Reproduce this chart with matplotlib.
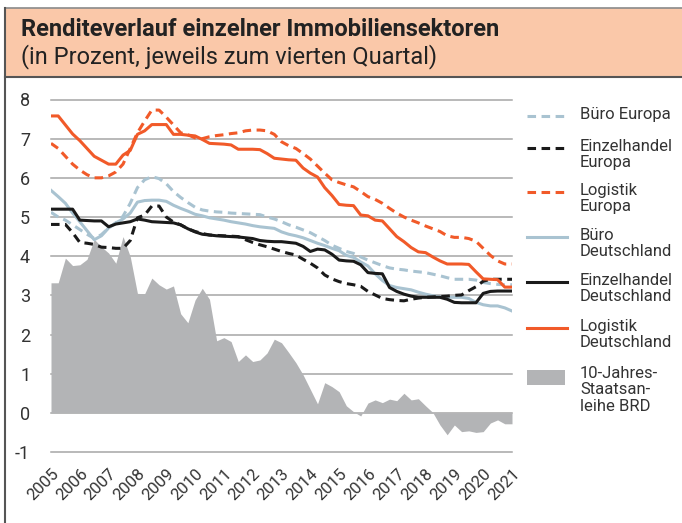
import numpy as np
import matplotlib
matplotlib.use("Agg")
import matplotlib.pyplot as plt
from matplotlib.lines import Line2D
from matplotlib.patches import Rectangle

plt.rcParams['font.family'] = ['Roboto', 'DejaVu Sans']
plt.rcParams['axes.unicode_minus'] = False

# quarterly values, Q4 2004 .. Q4 2020 (65 points on the 2005..2021 axis)
quarters = 2005 + np.arange(65) / 4

buero_europa = [
    5.12, 5.00, 4.92, 4.80, 4.68, 4.56, 4.45, 4.55, 4.72, 4.85,
    5.02, 5.35, 5.75, 5.95, 6.03, 5.98, 5.85, 5.65, 5.50, 5.37,
    5.25, 5.18, 5.15, 5.13, 5.12, 5.10, 5.09, 5.08, 5.07, 5.06,
    5.00, 4.95, 4.88, 4.80, 4.74, 4.67, 4.60, 4.50, 4.40, 4.28,
    4.20, 4.12, 4.07, 3.98, 3.90, 3.83, 3.76, 3.70, 3.67, 3.65,
    3.62, 3.60, 3.58, 3.54, 3.50, 3.45, 3.41, 3.41, 3.41, 3.39,
    3.33, 3.30, 3.28, 3.27, 3.27,
]
einzel_europa = [
    4.81, 4.81, 4.81, 4.60, 4.35, 4.33, 4.30, 4.23, 4.22, 4.20,
    4.20, 4.40, 4.98, 5.05, 5.28, 5.28, 5.00, 4.87, 4.80, 4.70,
    4.63, 4.58, 4.54, 4.53, 4.52, 4.51, 4.50, 4.42, 4.35, 4.29,
    4.24, 4.18, 4.12, 4.07, 4.03, 3.92, 3.82, 3.70, 3.52, 3.42,
    3.35, 3.30, 3.27, 3.23, 3.10, 3.01, 2.92, 2.89, 2.87, 2.86,
    2.90, 2.93, 2.95, 2.96, 2.97, 2.98, 3.00, 3.01, 3.12, 3.22,
    3.36, 3.41, 3.41, 3.41, 3.41,
]
logistik_europa = [
    6.88, 6.75, 6.55, 6.35, 6.20, 6.08, 6.00, 6.00, 6.05, 6.15,
    6.35, 6.75, 7.15, 7.45, 7.73, 7.73, 7.55, 7.35, 7.15, 7.10,
    7.02, 7.00, 7.05, 7.08, 7.10, 7.13, 7.15, 7.20, 7.22, 7.22,
    7.20, 7.11, 6.92, 6.82, 6.75, 6.62, 6.48, 6.30, 6.12, 5.95,
    5.88, 5.82, 5.77, 5.65, 5.52, 5.45, 5.35, 5.22, 5.10, 5.00,
    4.92, 4.85, 4.77, 4.70, 4.63, 4.52, 4.48, 4.48, 4.45, 4.38,
    4.20, 4.02, 3.88, 3.80, 3.80,
]
buero_de = [
    5.68, 5.52, 5.35, 5.10, 4.88, 4.65, 4.42, 4.52, 4.72, 4.85,
    4.95, 5.10, 5.38, 5.42, 5.43, 5.43, 5.40, 5.30, 5.22, 5.15,
    5.07, 5.03, 4.98, 4.95, 4.92, 4.88, 4.85, 4.82, 4.78, 4.75,
    4.73, 4.71, 4.62, 4.56, 4.52, 4.47, 4.40, 4.33, 4.27, 4.20,
    4.14, 4.02, 3.97, 3.85, 3.75, 3.55, 3.38, 3.25, 3.20, 3.17,
    3.14, 3.08, 3.03, 2.99, 2.96, 2.95, 2.95, 2.95, 2.92, 2.82,
    2.76, 2.73, 2.73, 2.68, 2.60,
]
einzel_de = [
    5.20, 5.20, 5.20, 5.20, 4.92, 4.91, 4.90, 4.90, 4.75, 4.82,
    4.85, 4.88, 4.95, 4.92, 4.88, 4.87, 4.86, 4.85, 4.80, 4.70,
    4.62, 4.56, 4.54, 4.52, 4.51, 4.50, 4.49, 4.47, 4.45, 4.40,
    4.38, 4.37, 4.37, 4.35, 4.33, 4.25, 4.12, 4.18, 4.16, 4.05,
    3.90, 3.88, 3.87, 3.78, 3.58, 3.56, 3.55, 3.20, 3.10, 3.03,
    2.98, 2.95, 2.95, 2.95, 2.95, 2.90, 2.82, 2.81, 2.81, 2.81,
    3.05, 3.10, 3.11, 3.11, 3.11,
]
logistik_de = [
    7.58, 7.58, 7.35, 7.12, 6.95, 6.75, 6.55, 6.45, 6.35, 6.35,
    6.58, 6.70, 7.11, 7.20, 7.36, 7.36, 7.36, 7.11, 7.11, 7.09,
    7.07, 6.98, 6.88, 6.87, 6.86, 6.84, 6.73, 6.73, 6.73, 6.72,
    6.62, 6.50, 6.48, 6.46, 6.45, 6.25, 6.12, 6.02, 5.75, 5.55,
    5.32, 5.30, 5.29, 5.05, 5.03, 4.92, 4.90, 4.70, 4.50, 4.37,
    4.22, 4.11, 4.09, 3.98, 3.88, 3.80, 3.80, 3.80, 3.79, 3.60,
    3.42, 3.41, 3.40, 3.21, 3.21,
]
bund_10j = [
    3.32, 3.32, 3.95, 3.76, 3.78, 3.92, 4.43, 4.24, 4.08, 3.82,
    4.50, 3.99, 3.05, 3.04, 3.44, 3.27, 3.16, 3.24, 2.53, 2.30,
    2.88, 3.18, 2.90, 1.84, 1.92, 1.82, 1.31, 1.48, 1.31, 1.35,
    1.53, 1.88, 1.79, 1.54, 1.28, 0.97, 0.60, 0.23, 0.77, 0.67,
    0.54, 0.18, 0.03, -0.08, 0.25, 0.33, 0.26, 0.35, 0.31, 0.50,
    0.33, 0.36, 0.18, 0.01, -0.31, -0.56, -0.31, -0.48, -0.46, -0.50,
    -0.48, -0.26, -0.18, -0.28, -0.28,
]

years = list(range(2005, 2022))
yticks = list(range(-1, 9))

ORANGE = "#f15a29"
BLUE = "#a9c3d1"
BLACK = "#1a1a1a"
GREY = "#b3b4b6"
TXT = "#333333"

W, H = 682, 523
fig = plt.figure(figsize=(W / 100, H / 100), dpi=100)


def fx(px):
    return px / W


def fy(py):
    return 1 - py / H


# header box and frame
fig.add_artist(Rectangle((fx(5), fy(77)), 1, fy(8) - fy(77), transform=fig.transFigure,
                         facecolor="#fac8a9", edgecolor="none"))
fig.add_artist(Line2D([fx(5), 1], [fy(8), fy(8)], color="#8a8a8a", lw=1.2))
fig.add_artist(Line2D([fx(5), 1], [fy(77), fy(77)], color="#555555", lw=1.5))
fig.add_artist(Line2D([fx(5), fx(5)], [0, fy(8)], color="#555555", lw=1.5))
fig.text(fx(21), fy(30), "Renditeverlauf einzelner Immobiliensektoren", fontsize=17,
         fontweight="bold", color="#222222", va="center", ha="left")
fig.text(fx(21), fy(57), "(in Prozent, jeweils zum vierten Quartal)", fontsize=17,
         color="#222222", va="center", ha="left")

ax = fig.add_axes([fx(51), fy(452), fx(512) - fx(51), fy(99.5) - fy(452)])
ax.set_xlim(2005, 2021)
ax.set_ylim(-1, 8)
for v in yticks:
    ax.axhline(v, color="#a6a6a6", lw=1.1, zorder=0, clip_on=False)

ax.fill_between(quarters, 0, bund_10j, color=GREY, lw=0, zorder=1)

dash = (2.8, 1.8)
ax.plot(quarters, buero_de, color=BLUE, lw=2.2, zorder=2)
ax.plot(quarters, buero_europa, color=BLUE, lw=2.2, dashes=dash, zorder=2)
ax.plot(quarters, einzel_de, color=BLACK, lw=2.2, zorder=3)
ax.plot(quarters, einzel_europa, color=BLACK, lw=2.2, dashes=dash, zorder=3)
ax.plot(quarters, logistik_de, color=ORANGE, lw=2.2, zorder=3)
ax.plot(quarters, logistik_europa, color=ORANGE, lw=2.2, dashes=dash, zorder=3)

for s in ax.spines.values():
    s.set_visible(False)
ax.set_yticks(yticks)
ax.set_xticks(years)
ax.set_xticklabels([str(y) for y in years], rotation=45, ha="right", va="top",
                   rotation_mode="anchor")
ax.tick_params(axis="both", length=0, colors=TXT, labelsize=12)
ax.tick_params(axis="y", pad=15, labelsize=13)
ax.tick_params(axis="x", pad=10)

# legend drawn by hand so handles line up with the first text line
legend = [
    ("Büro Europa", BLUE, True, 116),
    ("Einzelhandel\nEuropa", BLACK, True, 148),
    ("Logistik\nEuropa", ORANGE, True, 192),
    ("Büro\nDeutschland", BLUE, False, 237),
    ("Einzelhandel\nDeutschland", BLACK, False, 282),
    ("Logistik\nDeutschland", ORANGE, False, 328),
]
for label, col, dashed, py in legend:
    ln = Line2D([fx(527), fx(567)], [fy(py), fy(py)], color=col, lw=2.2)
    if dashed:
        ln.set_dashes(dash)
    fig.add_artist(ln)
    fig.text(fx(580), fy(py - 9), label, fontsize=12, color=TXT, va="top", ha="left",
             linespacing=1.12)
fig.add_artist(Rectangle((fx(527), fy(385)), fx(565) - fx(527), fy(370) - fy(385),
                         transform=fig.transFigure, facecolor=GREY, edgecolor="none"))
fig.text(fx(580), fy(366), "10-Jahres-\nStaatsan-\nleihe BRD", fontsize=12, color=TXT,
         va="top", ha="left", linespacing=1.12)

fig.savefig("out.png", dpi=100)
